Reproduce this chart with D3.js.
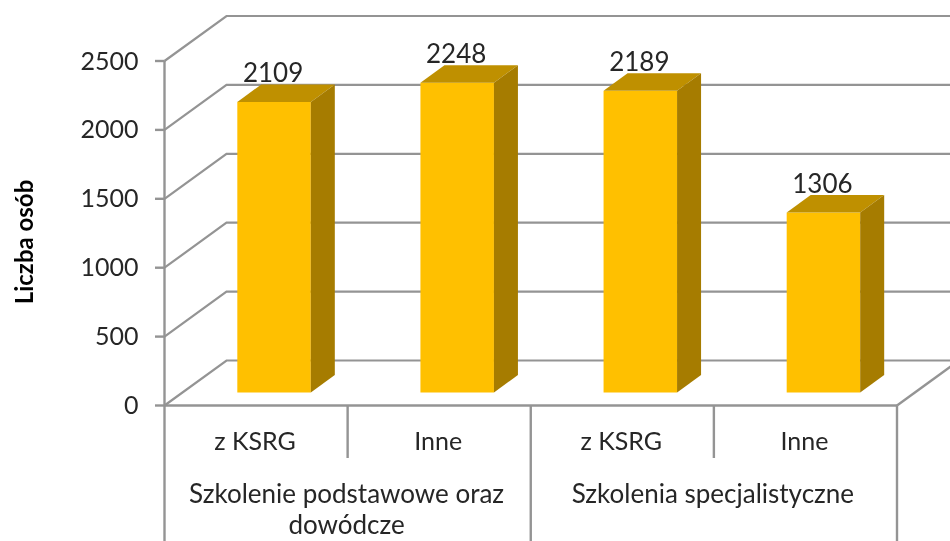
<!DOCTYPE html>
<html><head><meta charset="utf-8">
<script src="https://cdn.jsdelivr.net/npm/d3@7/dist/d3.min.js"></script>
<style>html,body{margin:0;padding:0;background:#fff}svg{display:block;filter:blur(0.55px)}text{font-family:Lato,"Open Sans",sans-serif;fill:#262626}</style>
</head><body><div id="c"></div>
<script>
const categories=["z KSRG","Inne","z KSRG","Inne"];
const values=[2109,2248,2189,1306];
const groups=["Szkolenie podstawowe oraz|dowódcze","Szkolenia specjalistyczne"];
const yTicks=[0,500,1000,1500,2000,2500];
const yTitle="Liczba osób";

(function(){
const W=950,H=541,depthX=62,depthY=-45,plotL=164.5,plotR=897,plotB=405.5,plotT=61;
const barDX=24,barDY=-17.5,floorDY=-13;
const gridC="#949494",faceC="#FFC000",topC="#BF9000",sideC="#A67C00";
const svg=d3.select("#c").append("svg").attr("width",W).attr("height",H);
const y=d3.scaleLinear().domain([0,2500]).range([plotB,plotT]);
const x=d3.scaleBand().domain(d3.range(4)).range([plotL,plotR]);
const line=(a,b,c,d,w=2.4)=>svg.append("line").attr("x1",a).attr("y1",b).attr("x2",c).attr("y2",d).attr("stroke",gridC).attr("stroke-width",w);

yTicks.forEach(t=>{
  const v=y(t);
  svg.append("path").attr("fill","none").attr("stroke",gridC).attr("stroke-width",2.2)
    .attr("d",`M${plotL},${v}L${plotL+depthX},${v+depthY}L${W},${v+depthY}`);
  line(155,v,plotL,v);
  svg.append("text").attr("x",138.5).attr("y",v+8.5).attr("text-anchor","end").attr("font-size",25).text(t);
});
line(plotL,plotB,plotR,plotB,2.6);
line(plotR,plotB,plotR+depthX,plotB+depthY,2.4);
line(plotL,plotT,plotL,H);
[1,3].forEach(i=>line(x(i),plotB,x(i),458));
[2,4].forEach(i=>line(plotL+x.step()*i,plotB,plotL+x.step()*i,H));

const bw=73.5,off=(x.step()-bw)/2+18;
const g=svg.selectAll("g.bar").data(values).join("g").attr("class","bar");
g.each(function(d,i){
  const s=d3.select(this),x0=x(i)+off,x1=x0+bw,b=plotB+floorDY,t=b-(plotB-y(d));
  s.append("rect").attr("x",x0).attr("y",t).attr("width",bw).attr("height",b-t).attr("fill",faceC);
  s.append("path").attr("fill",topC).attr("d",`M${x0},${t}L${x0+barDX},${t+barDY}L${x1+barDX},${t+barDY}L${x1},${t}Z`);
  s.append("path").attr("fill",sideC).attr("d",`M${x1},${t}L${x1+barDX},${t+barDY}L${x1+barDX},${b+barDY}L${x1},${b}Z`);
  s.append("text").attr("x",x0+bw/2-1).attr("y",t-19.5).attr("text-anchor","middle").attr("font-size",26).text(d);
});
categories.forEach((c,i)=>svg.append("text").attr("x",x(i)+x.step()/2-1).attr("y",450).attr("text-anchor","middle").attr("font-size",25).text(c));
groups.forEach((c,i)=>c.split("|").forEach((l,j)=>svg.append("text")
  .attr("x",plotL+x.step()*(2*i+1)-1).attr("y",503+j*31).attr("text-anchor","middle").attr("font-size",26).text(l)));
svg.append("text").attr("transform","translate(32.5,242) rotate(-90)").attr("text-anchor","middle").attr("font-size",24).attr("font-weight",700).style("fill","#000").text(yTitle);
})();
</script></body></html>
